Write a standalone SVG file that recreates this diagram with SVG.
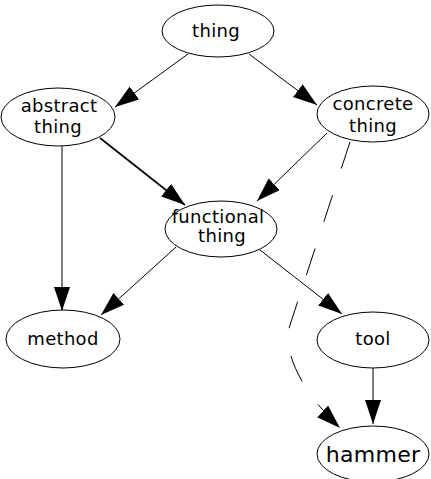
<svg xmlns="http://www.w3.org/2000/svg" width="431" height="479" viewBox="0 0 431 479">
<style>
.node ellipse{fill:#fff;stroke:#000;stroke-width:1}
.node text{font-family:"DejaVu Sans",Verdana,sans-serif;font-size:18px;letter-spacing:0.3px;fill:#000;text-anchor:middle}
.edges path{fill:none;stroke:#000;stroke-width:1;marker-end:url(#ah)}
</style>
<defs>
<marker id="ah" markerUnits="userSpaceOnUse" markerWidth="26" markerHeight="18" refX="24" refY="8" orient="auto">
<path d="M0,0 L24,8 L0,16 Z" fill="#000"/>
</marker>
</defs>
<rect width="431" height="479" fill="#fff"/>
<g class="edges">
<path d="M188,54 L115,107"/>
<path d="M249,54 L317,105"/>
<path d="M100,138 L185,205" style="stroke-width:1.6"/>
<path d="M327,133 L257,201"/>
<path d="M62,146 L62,311"/>
<path d="M176,247 L101,315"/>
<path d="M260,250 L342,314"/>
<path d="M373,368 L373,424"/>
<path d="M350,142 L290,325 C282,350 300,390 340,428" style="stroke-dasharray:28,28"/>
</g>
<g id="thing" class="node"><ellipse cx="218" cy="31" rx="56" ry="26"/><text x="216" y="37">thing</text></g>
<g id="abstract_thing" class="node"><ellipse cx="58" cy="117" rx="57" ry="29"/><text x="59" y="112">abstract</text><text x="58" y="133">thing</text></g>
<g id="concrete_thing" class="node"><ellipse cx="373" cy="114" rx="56" ry="28"/><text x="373" y="110">concrete</text><text x="373" y="132">thing</text></g>
<g id="functional_thing" class="node"><ellipse cx="221" cy="229" rx="56" ry="28"/><text x="218" y="223">functional</text><text x="222" y="242">thing</text></g>
<g id="method" class="node"><ellipse cx="63" cy="339" rx="57" ry="29"/><text x="63" y="345">method</text></g>
<g id="tool" class="node"><ellipse cx="373" cy="340" rx="56" ry="28"/><text x="373" y="345">tool</text></g>
<g id="hammer" class="node"><ellipse cx="373" cy="454" rx="56" ry="28"/><text x="373" y="462" style="font-size:22px">hammer</text></g>
</svg>
